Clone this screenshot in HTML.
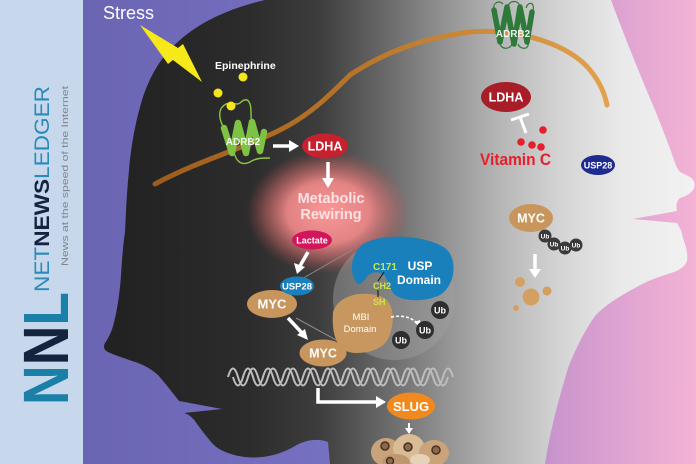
<!DOCTYPE html>
<html>
<head>
<meta charset="utf-8">
<style>
html,body{margin:0;padding:0;background:#fff;}
svg{display:block;}
text{font-family:"Liberation Sans",Arial,sans-serif;}
</style>
</head>
<body>
<svg width="696" height="464" viewBox="0 0 696 464" xmlns="http://www.w3.org/2000/svg">
<defs>
<linearGradient id="bg" gradientUnits="userSpaceOnUse" x1="83" y1="0" x2="696" y2="0">
<stop offset="0" stop-color="#6a65b3"/>
<stop offset="0.40" stop-color="#7670c0"/>
<stop offset="0.65" stop-color="#a485c8"/>
<stop offset="0.78" stop-color="#cc97cd"/>
<stop offset="1" stop-color="#f4b3d5"/>
</linearGradient>
<linearGradient id="head" gradientUnits="userSpaceOnUse" x1="120" y1="0" x2="696" y2="0">
<stop offset="0" stop-color="#222"/>
<stop offset="0.226" stop-color="#2c2c2c"/>
<stop offset="0.347" stop-color="#3d3d3d"/>
<stop offset="0.486" stop-color="#737373"/>
<stop offset="0.573" stop-color="#969696"/>
<stop offset="0.66" stop-color="#b6b6b6"/>
<stop offset="0.764" stop-color="#d4d4d4"/>
<stop offset="0.868" stop-color="#e9e9e9"/>
<stop offset="1" stop-color="#f2f2f2"/>
</linearGradient>
<linearGradient id="mem" gradientUnits="userSpaceOnUse" x1="150" y1="0" x2="610" y2="0">
<stop offset="0" stop-color="#9c5c1c"/>
<stop offset="0.45" stop-color="#b87428"/>
<stop offset="1" stop-color="#e3a24e"/>
</linearGradient>
<radialGradient id="glow" cx="0.5" cy="0.5" r="0.5">
<stop offset="0" stop-color="#f99898" stop-opacity="1"/>
<stop offset="0.5" stop-color="#f08888" stop-opacity="0.92"/>
<stop offset="0.78" stop-color="#d66a6a" stop-opacity="0.45"/>
<stop offset="1" stop-color="#b04a4a" stop-opacity="0"/>
</radialGradient>
</defs>

<!-- background -->
<rect x="0" y="0" width="696" height="464" fill="url(#bg)"/>
<rect x="0" y="0" width="83" height="464" fill="#c7d8ec"/>

<!-- heads -->
<path fill="url(#head)" d="M265,0 L611,0 C622,30 640,75 655,110 C663,130 670,148 674,160 C676,166 678,170 680,172 L690,177 C695,180 696,186 693,190 C690,194 686,196 680,198 C676,202 676,206 677,211 L633,219 L677,223 C680,228 682,232 683,238 C686,246 688,254 687,261 C684,268 678,271 668,274 C655,278 645,282 635,288 C620,296 605,305 595,316 C585,330 575,350 568,368 C560,395 550,430 545,464 L330,464 L328,442 C318,438 305,440 295,446 C280,455 262,459 245,457 C230,455 218,450 212,443 C205,435 200,428 195,421 C192,417 188,414 184,413 L222,409 L179,401 C172,392 165,383 158,375 C150,368 142,364 132,361 C124,358 114,355 108,352 C104,350 103,347 105,343 C110,336 113,328 115,318 C118,305 120,290 121,275 C122,260 123,245 125,232 C126,210 127,190 129,170 C131,145 136,120 142,100 C150,75 162,55 180,40 C200,22 230,8 265,0 Z"/>

<!-- logo -->
<g transform="translate(68,405) rotate(-90)">
<text x="0" y="0" font-size="64" font-weight="bold" textLength="113" lengthAdjust="spacingAndGlyphs"><tspan fill="#1a80a8">N</tspan><tspan fill="#14243f">N</tspan><tspan fill="#1a80a8">L</tspan></text>
</g>
<g transform="translate(49,292) rotate(-90)">
<text x="0" y="0" font-size="21.5" textLength="206" lengthAdjust="spacingAndGlyphs"><tspan fill="#2a8ab8">NET</tspan><tspan fill="#14243f" font-weight="bold">NEWS</tspan><tspan fill="#2a8ab8">LEDGER</tspan></text>
</g>
<g transform="translate(68,266) rotate(-90)">
<text x="0" y="0" font-size="9.5" fill="#7d8590" textLength="180" lengthAdjust="spacingAndGlyphs">News at the speed of the Internet</text>
</g>

<!-- Stress -->
<text x="103" y="19" font-size="18" fill="#fff">Stress</text>
<polygon points="140,25 178,48 183,44 202,82 173,60 168,64" fill="#f7e81a"/>
<text x="215" y="69" font-size="10.5" font-weight="bold" fill="#fff">Epinephrine</text>

<!-- membrane -->
<path d="M155,184 C200,160 240,150 280,130 C310,115 330,95 350,75 C380,55 420,38 470,32 C520,28 570,45 590,70 C600,82 605,95 607,105" fill="none" stroke="url(#mem)" stroke-width="5" stroke-linecap="round"/>

<!-- left ADRB2 -->
<g fill="none" stroke="#8dc63f" stroke-width="1.4">
<path d="M224,128 C218,118 218,108 226,104 C232,101 236,106 240,103 C244,99 248,98 250,104 C252,110 250,116 252,122"/>
<path d="M234,152 C236,162 242,166 250,162 C256,158 262,158 270,158"/>
</g>
<polyline points="224,128 232,153 238,123 246,153 252,122 260,151 264,132" fill="none" stroke="#7dc242" stroke-width="6.5" stroke-linejoin="round" stroke-linecap="round"/>
<text x="243" y="145" font-size="10" font-weight="bold" fill="#fff" fill-opacity="0.9" text-anchor="middle">ADRB2</text>
<circle cx="243" cy="77" r="4.5" fill="#f5e61c"/>
<circle cx="218" cy="93" r="4.5" fill="#f5e61c"/>
<circle cx="231" cy="106" r="4.5" fill="#f5e61c"/>

<!-- arrow to LDHA -->
<line x1="273" y1="146" x2="291" y2="146" stroke="#fff" stroke-width="3.5"/>
<polygon points="289,140 299,146 289,152" fill="#fff"/>

<!-- glow -->
<ellipse cx="328" cy="212" rx="82" ry="62" fill="url(#glow)"/>

<ellipse cx="325" cy="146" rx="23" ry="12.5" fill="#c8202e"/>
<text x="325" y="150.5" font-size="12.5" font-weight="bold" fill="#fff" text-anchor="middle">LDHA</text>
<line x1="328" y1="162" x2="328" y2="180" stroke="#fff" stroke-width="3.5"/>
<polygon points="322,178 328,188 334,178" fill="#fff"/>

<text x="331" y="203" font-size="14.5" font-weight="bold" fill="#ffe2e2" text-anchor="middle">Metabolic</text>
<text x="331" y="219" font-size="14.5" font-weight="bold" fill="#ffe2e2" text-anchor="middle">Rewiring</text>

<ellipse cx="312" cy="240" rx="20" ry="9.5" fill="#d4155c"/>
<text x="312" y="243.5" font-size="9" font-weight="bold" fill="#fff" text-anchor="middle">Lactate</text>
<line x1="308" y1="252" x2="300" y2="266" stroke="#fff" stroke-width="3.5"/>
<polygon points="294,263 297,274 305,267" fill="#fff"/>

<!-- magnifier -->
<line x1="300" y1="280" x2="352" y2="250" stroke="#8a8a8a" stroke-width="1"/>
<line x1="296" y1="318" x2="358" y2="352" stroke="#8a8a8a" stroke-width="1"/>
<circle cx="394" cy="299" r="61" fill="#a0a0a0" fill-opacity="0.45"/>

<!-- USP domain -->
<path d="M356,282 C348,270 352,250 365,243 C385,233 425,235 445,248 C458,258 456,285 440,295 C425,302 405,302 395,295 C390,290 388,282 385,276 C378,270 370,272 366,278 C362,284 358,286 356,282 Z" fill="#1a80bb"/>
<text x="420" y="270" font-size="12" font-weight="bold" fill="#fff" text-anchor="middle">USP</text>
<text x="419" y="284" font-size="12" font-weight="bold" fill="#fff" text-anchor="middle">Domain</text>

<!-- MBI domain -->
<path d="M333,312 C338,296 360,290 380,296 C393,301 395,316 391,331 C388,346 375,353 356,353 C340,353 331,340 333,312 Z" fill="#c8965f"/>
<text x="361" y="320" font-size="9.5" fill="#fff" text-anchor="middle">MBI</text>
<text x="360" y="332" font-size="9.5" fill="#fff" text-anchor="middle">Domain</text>

<text x="373" y="270" font-size="10" font-weight="bold" fill="#c8e84a">C171</text>
<text x="373" y="289" font-size="9" font-weight="bold" fill="#c8e84a">CH2</text>
<text x="373" y="305" font-size="9" font-weight="bold" fill="#c8e84a">SH</text>
<line x1="384" y1="272" x2="378" y2="281" stroke="#111" stroke-width="1"/>
<line x1="378" y1="290" x2="378" y2="297" stroke="#111" stroke-width="1"/>

<path d="M391,317 Q408,314 417,323" fill="none" stroke="#fff" stroke-width="1.6" stroke-dasharray="3,2"/>
<polygon points="414,322 421,328 420,320" fill="#fff"/>

<g font-size="9" font-weight="bold" fill="#fff" text-anchor="middle">
<circle cx="440" cy="310" r="9" fill="#2e2e2e"/><text x="440" y="313.5">Ub</text>
<circle cx="425" cy="330" r="9" fill="#2e2e2e"/><text x="425" y="333.5">Ub</text>
<circle cx="401" cy="340" r="9" fill="#2e2e2e"/><text x="401" y="343.5">Ub</text>
</g>

<!-- MYC / USP28 left -->
<ellipse cx="272" cy="304" rx="25" ry="14" fill="#c8955c"/>
<text x="272" y="308.5" font-size="13" font-weight="bold" fill="#fff" text-anchor="middle">MYC</text>
<ellipse cx="297" cy="286" rx="17" ry="9.5" fill="#1a80bb"/>
<text x="297" y="289.5" font-size="9.5" font-weight="bold" fill="#fff" text-anchor="middle">USP28</text>
<line x1="288" y1="318" x2="302" y2="333" stroke="#fff" stroke-width="3.5"/>
<polygon points="297,335 308,340 305,329" fill="#fff"/>

<!-- DNA -->
<path d="M228,377 q5,-17 10,0 t10,0 t10,0 t10,0 t10,0 t10,0 t10,0 t10,0 t10,0 t10,0 t10,0 t10,0 t10,0 t10,0 t10,0 t10,0 t10,0 t10,0 t10,0 t10,0 t10,0 t10,0" fill="none" stroke="#bdbdbd" stroke-width="2"/>
<path d="M233,377 q5,17 10,0 t10,0 t10,0 t10,0 t10,0 t10,0 t10,0 t10,0 t10,0 t10,0 t10,0 t10,0 t10,0 t10,0 t10,0 t10,0 t10,0 t10,0 t10,0 t10,0 t10,0 t10,0" fill="none" stroke="#bdbdbd" stroke-width="2"/>

<ellipse cx="323" cy="353" rx="23.5" ry="13.5" fill="#c8955c"/>
<text x="323" y="357.5" font-size="12.5" font-weight="bold" fill="#fff" text-anchor="middle">MYC</text>

<path d="M318,388 L318,402 L378,402" fill="none" stroke="#fff" stroke-width="3.5"/>
<polygon points="376,396 386,402 376,408" fill="#fff"/>

<ellipse cx="411" cy="406" rx="24" ry="13.5" fill="#f08a1e"/>
<text x="411" y="411" font-size="13" font-weight="bold" fill="#fff" text-anchor="middle">SLUG</text>
<line x1="409" y1="423" x2="409" y2="429" stroke="#fff" stroke-width="2"/>
<polygon points="405,428 409,434 413,428" fill="#fff"/>

<!-- cells -->
<g>
<ellipse cx="386" cy="452" rx="15" ry="14" fill="#c9a37a"/>
<ellipse cx="409" cy="449" rx="16" ry="15" fill="#d9bb96"/>
<ellipse cx="434" cy="453" rx="15" ry="13" fill="#c9a37a"/>
<ellipse cx="396" cy="462" rx="14" ry="8" fill="#bf9870"/>
<ellipse cx="420" cy="460" rx="10" ry="6" fill="#e6d2b8"/>
<circle cx="385" cy="446" r="4" fill="#8a6a4a" stroke="#4a3020" stroke-width="1.5"/>
<circle cx="408" cy="447" r="4" fill="#8a6a4a" stroke="#4a3020" stroke-width="1.5"/>
<circle cx="436" cy="450" r="4" fill="#8a6a4a" stroke="#4a3020" stroke-width="1.5"/>
<circle cx="390" cy="461" r="3.5" fill="#8a6a4a" stroke="#4a3020" stroke-width="1.5"/>
</g>

<!-- right ADRB2 -->
<g fill="none" stroke="#2d7a3a" stroke-width="1.2">
<path d="M494,10 C492,2 500,0 503,4 M508,6 C510,0 518,0 520,6 M526,8 C528,1 535,2 533,10"/>
<path d="M500,42 C500,50 510,50 512,44 M518,44 C520,50 530,50 528,42"/>
</g>
<polyline points="494,10 500,42 507,7 514,44 520,7 527,42 532,12" fill="none" stroke="#2d7a3a" stroke-width="5.5" stroke-linejoin="round" stroke-linecap="round"/>
<text x="513" y="37" font-size="10" font-weight="bold" fill="#fff" fill-opacity="0.9" text-anchor="middle">ADRB2</text>

<ellipse cx="506" cy="97" rx="25" ry="15" fill="#a81e28"/>
<text x="506" y="101.5" font-size="12.5" font-weight="bold" fill="#fff" text-anchor="middle">LDHA</text>
<line x1="520" y1="117" x2="526" y2="133" stroke="#fff" stroke-width="3"/>
<line x1="511" y1="120" x2="529" y2="114" stroke="#fff" stroke-width="3"/>
<circle cx="543" cy="130" r="3.8" fill="#e4202c"/>
<circle cx="521" cy="142" r="3.8" fill="#e4202c"/>
<circle cx="532" cy="145" r="3.8" fill="#e4202c"/>
<circle cx="541" cy="147" r="3.8" fill="#e4202c"/>
<text x="480" y="165" font-size="17" font-weight="bold" fill="#e4202c" textLength="71" lengthAdjust="spacingAndGlyphs">Vitamin C</text>

<ellipse cx="598" cy="165" rx="17" ry="10" fill="#1f2a8e"/>
<text x="598" y="168.5" font-size="9" font-weight="bold" fill="#fff" text-anchor="middle">USP28</text>

<ellipse cx="531" cy="218" rx="22" ry="14" fill="#c8955c"/>
<text x="531" y="222.5" font-size="12.5" font-weight="bold" fill="#fff" text-anchor="middle">MYC</text>
<g font-size="6.5" font-weight="bold" fill="#fff" text-anchor="middle">
<circle cx="545" cy="236" r="6.5" fill="#3a3a3a"/><text x="545" y="238.5">Ub</text>
<circle cx="554" cy="244" r="6.5" fill="#3a3a3a"/><text x="554" y="246.5">Ub</text>
<circle cx="565" cy="248" r="6.5" fill="#3a3a3a"/><text x="565" y="250.5">Ub</text>
<circle cx="576" cy="245" r="6.5" fill="#3a3a3a"/><text x="576" y="247.5">Ub</text>
</g>
<line x1="535" y1="254" x2="535" y2="270" stroke="#fff" stroke-width="3.5"/>
<polygon points="529,269 535,278 541,269" fill="#fff"/>
<circle cx="520" cy="282" r="5" fill="#d4a062"/>
<circle cx="531" cy="297" r="8.5" fill="#d4a062"/>
<circle cx="547" cy="291" r="4.5" fill="#d4a062"/>
<circle cx="516" cy="308" r="3" fill="#d4a062"/>
</svg>
</body>
</html>
